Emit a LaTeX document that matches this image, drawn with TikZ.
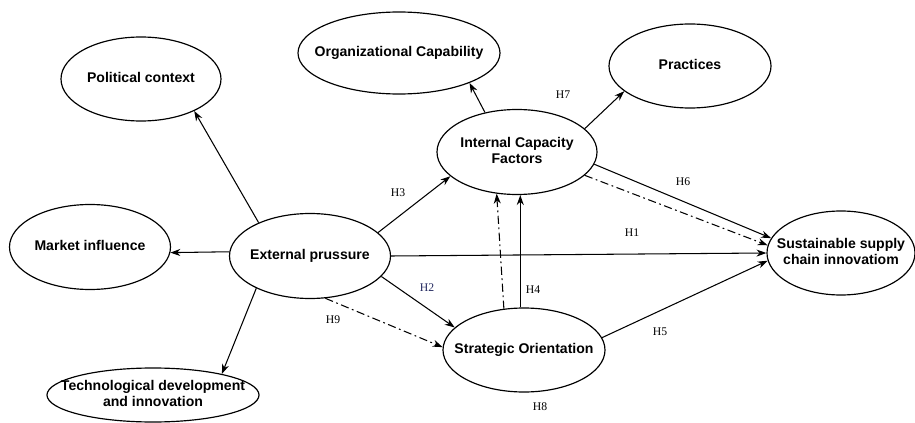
\documentclass[tikz,border=0pt]{standalone}
\usepackage{fontspec}
\setmainfont{Liberation Serif}
\newfontfamily\nodefont{Liberation Sans}
\usetikzlibrary{shapes.geometric,arrows.meta}
\definecolor{hblue}{RGB}{35,40,95}
% text of a construct, kept out of the size of its ellipse
\newcommand{\construct}[1]{\makebox[0pt]{\begin{tabular}{@{}c@{}}#1\end{tabular}}}
\tikzset{
  latent/.style={ellipse,draw,line width=1pt,inner sep=0pt,
    font=\nodefont\bfseries\fontsize{12}{13.5}\selectfont},
  path/.style={->,line width=0.9pt},
  indirect/.style={path,dash pattern=on 7pt off 3pt on 1.5pt off 3pt},
  hyp/.style={font=\fontsize{10}{11}\selectfont,inner sep=1pt}
}
\begin{document}
\begin{tikzpicture}[x=0.03cm,y=-0.03cm,>={Stealth[length=8.5pt,width=6pt]},line join=round]
	\useasboundingbox (0,0) rectangle (915,423);
	% constructs
	\node[latent,minimum width=4.8cm,minimum height=2.52cm] (pol) at (141,79) {\construct{Political context}};
	\node[latent,minimum width=6.06cm,minimum height=2.46cm] (org) at (399,53) {\construct{Organizational Capability}};
	\node[latent,minimum width=4.86cm,minimum height=2.52cm] (prac) at (690,66) {\construct{Practices}};
	\node[latent,minimum width=4.8cm,minimum height=2.55cm] (icf) at (517,152) {\construct{Internal Capacity\\Factors}};
	\node[latent,minimum width=4.83cm,minimum height=2.55cm] (mkt) at (90,247) {\construct{Market influence}};
	\node[latent,minimum width=4.83cm,minimum height=2.55cm] (ext) at (310,256) {\construct{External prussure}};
	\node[latent,minimum width=6.36cm,minimum height=1.62cm] (tech) at (153,395) {\construct{Technological development\\and innovation}};
	\node[latent,minimum width=4.86cm,minimum height=2.52cm] (so) at (524,350) {\construct{Strategic Orientation}};
	\node[latent,minimum width=4.44cm,minimum height=2.52cm] (ssci) at (841,253) {\construct{Sustainable supply\\chain innovatiom}};
	% paths
	\draw[path] (ext.147) -- (pol.-31);
	\draw[path] (ext.177) -- (mkt.-4);
	\draw[path] (ext.211) -- (tech.17);
	\draw[path] (ext.19) -- (icf.200);
	\draw[path] (ext.east) -- (ssci.west);
	\draw[path] (ext.-16) -- (so.162);
	\draw[indirect] (ext.-70) -- (so.178);
	\draw[path] (so.95) -- (so.95 |- icf.south);
	\draw[indirect] (so.116) -- (icf.244);
	\draw[path] (icf.129) -- (org.-23);
	\draw[path] (icf.19) -- (prac.201);
	\draw[path] (icf.-9) -- (ssci.168);
	\draw[indirect] (icf.-19) -- (ssci.174);
	\draw[path] (so.9) -- (ssci.186);
	% hypotheses
	\node[hyp] (h1) at (632,233) {H1};
	\node[hyp,text=hblue] (h2) at (427,288) {H2};
	\node[hyp] (h3) at (398,193) {H3};
	\node[hyp] (h4) at (533,290) {H4};
	\node[hyp] (h5) at (660,332) {H5};
	\node[hyp] (h6) at (683,182) {H6};
	\node[hyp] (h7) at (563,95) {H7};
	\node[hyp] (h8) at (540,407) {H8};
	\node[hyp] (h9) at (333,320) {H9};
\end{tikzpicture}
\end{document}
